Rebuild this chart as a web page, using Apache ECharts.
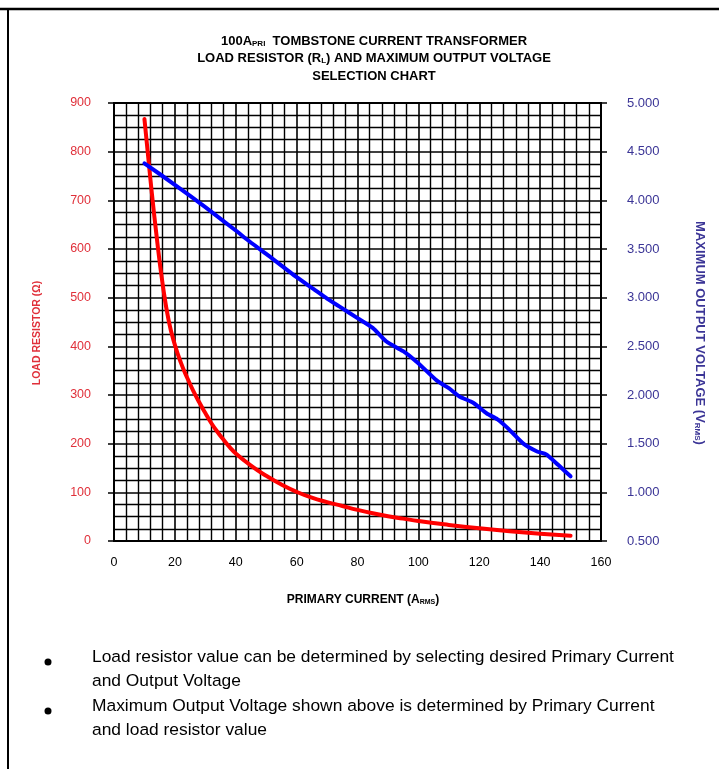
<!DOCTYPE html>
<html>
<head>
<meta charset="utf-8">
<script src="https://cdn.jsdelivr.net/npm/echarts@6/dist/echarts.min.js"></script>
<style>
html,body{margin:0;padding:0;background:#fff;}
#c{width:719px;height:769px;}
</style>
</head>
<body>
<div id="c"></div>
<script>
// Primary current (A RMS) and load resistor (Ω) – red curve
var resistorCurrent = [10, 12, 14, 16, 18, 20, 22, 24, 26, 28, 30, 32, 34, 36, 38, 40, 45, 50, 55, 60, 65, 70, 75, 80, 85, 90, 95, 100, 110, 120, 130, 140, 150];
var resistorValues  = [867, 741, 626, 527, 452, 403, 366, 336, 309, 285, 263, 242, 224, 208, 193, 180, 155, 134, 116, 101, 89, 80, 72, 64, 57, 51, 46, 41, 33, 26, 20, 15, 11];
// Primary current and maximum output voltage (V RMS) – blue curve
var voltageCurrent = [10, 20, 30, 40, 44, 50, 60, 65.5, 70, 74, 80, 85, 89.5, 95, 99.5, 106, 110, 113.5, 118, 122.5, 126, 129, 134.5, 139, 142, 146, 150];
var voltageValues  = [4.38, 4.16, 3.93, 3.69, 3.59, 3.45, 3.21, 3.09, 2.99, 2.91, 2.79, 2.69, 2.55, 2.45, 2.34, 2.15, 2.07, 1.985, 1.92, 1.81, 1.75, 1.67, 1.50, 1.42, 1.39, 1.28, 1.165];
var xTicks = [0, 20, 40, 60, 80, 100, 120, 140, 160];
var leftTicks = [0, 100, 200, 300, 400, 500, 600, 700, 800, 900];
var rightTicks = [0.5, 1.0, 1.5, 2.0, 2.5, 3.0, 3.5, 4.0, 4.5, 5.0];

var FONT = '"Liberation Sans", Arial, sans-serif';
var RED = '#e0303a';
var BLUE = '#3b3596';

function pairs(xs, ys){ return xs.map(function(x,i){ return [x, ys[i]]; }); }
function rich(size, color){
  return {
    b:{fontFamily:FONT, fontWeight:'bold', fontSize:size, color:color, fill:color},
    s:{fontFamily:FONT, fontWeight:'bold', fontSize:Math.round(size*0.62), color:color, fill:color, verticalAlign:'bottom', padding:[3,0,0,0]}
  };
}

var chart = echarts.init(document.getElementById('c'), null, {renderer:'canvas'});
var titleRich = rich(13, '#000');
chart.setOption({
  animation:false,
  backgroundColor:'#fff',
  title:[
    {text:'{b|100A}{s|PRI}{b|  TOMBSTONE CURRENT TRANSFORMER}', left:369, top:30, textAlign:'center', textStyle:{rich:titleRich}},
    {text:'{b|LOAD RESISTOR (R}{s|L}{b|) AND MAXIMUM OUTPUT VOLTAGE}', left:369, top:47, textAlign:'center', textStyle:{rich:titleRich}},
    {text:'{b|SELECTION CHART}', left:369, top:65, textAlign:'center', textStyle:{rich:titleRich}}
  ],
  grid:{left:114, right:118, top:103, bottom:228, show:true, borderColor:'#000', borderWidth:2, backgroundColor:'transparent'},
  xAxis:{
    type:'value', min:xTicks[0], max:xTicks[xTicks.length-1], interval:20,
    axisLine:{show:false}, axisTick:{show:false},
    axisLabel:{color:'#000', fontFamily:FONT, fontSize:12.5, margin:15},
    splitLine:{show:true, lineStyle:{color:'#000', width:1.6}},
    minorTick:{show:false, splitNumber:5},
    minorSplitLine:{show:true, lineStyle:{color:'#000', width:1.4}}
  },
  yAxis:[
    {
      type:'value', min:leftTicks[0], max:leftTicks[leftTicks.length-1], interval:100,
      axisLine:{show:false},
      axisTick:{show:true, inside:false, length:6, lineStyle:{color:'#000', width:1.5}},
      axisLabel:{color:RED, fontFamily:FONT, fontSize:12.5, margin:23},
      splitLine:{show:true, lineStyle:{color:'#000', width:1.6}},
      minorTick:{show:false, splitNumber:4},
      minorSplitLine:{show:true, lineStyle:{color:'#000', width:1.4}}
    },
    {
      type:'value', min:rightTicks[0], max:rightTicks[rightTicks.length-1], interval:0.5,
      position:'right',
      axisLine:{show:false},
      axisTick:{show:true, inside:false, length:6, lineStyle:{color:'#000', width:1.5}},
      axisLabel:{color:BLUE, fontFamily:FONT, fontSize:13, margin:26, formatter:function(v){return v.toFixed(3);}},
      splitLine:{show:false}
    }
  ],
  series:[
    {type:'line', yAxisIndex:0, data:pairs(resistorCurrent, resistorValues), smooth:0.5, symbol:'none',
     lineStyle:{color:'#ff0000', width:4, cap:'round', join:'round'}, z:5},
    {type:'line', yAxisIndex:1, data:pairs(voltageCurrent, voltageValues), smooth:0.2, symbol:'none',
     lineStyle:{color:'#0000ff', width:4, cap:'round', join:'round'}, z:6}
  ],
  graphic:[
    {type:'line', shape:{x1:0, y1:9, x2:719, y2:9}, style:{stroke:'#000', lineWidth:2.5}},
    {type:'line', shape:{x1:8, y1:8, x2:8, y2:769}, style:{stroke:'#000', lineWidth:2}},
    // axis names
    {type:'text', x:363, y:600, style:{text:'{b|PRIMARY CURRENT (A}{s|RMS}{b|)}', rich:rich(12,'#000'), fill:'#000', align:'center', verticalAlign:'middle'}},
    {type:'text', x:37, y:333, rotation:Math.PI/2, style:{text:'LOAD RESISTOR (Ω)', font:'bold 10.5px '+FONT, fill:RED, align:'center', verticalAlign:'middle'}},
    {type:'text', x:700, y:333, rotation:-Math.PI/2, style:{text:'{b|MAXIMUM OUTPUT VOLTAGE (V}{s|RMS}{b|)}', rich:rich(13,BLUE), fill:BLUE, align:'center', verticalAlign:'middle'}},
    // bullets
    {type:'circle', shape:{cx:48, cy:662, r:3.5}, style:{fill:'#000'}},
    {type:'circle', shape:{cx:48, cy:711, r:3.5}, style:{fill:'#000'}},
    {type:'text', left:92, top:649, style:{text:'Load resistor value can be determined by selecting desired Primary Current', font:'17.4px '+FONT, fill:'#000'}},
    {type:'text', left:92, top:673, style:{text:'and Output Voltage', font:'17.4px '+FONT, fill:'#000'}},
    {type:'text', left:92, top:698, style:{text:'Maximum Output Voltage shown above is determined by Primary Current', font:'17.4px '+FONT, fill:'#000'}},
    {type:'text', left:92, top:722, style:{text:'and load resistor value', font:'17.4px '+FONT, fill:'#000'}}
  ]
});
</script>
</body>
</html>
